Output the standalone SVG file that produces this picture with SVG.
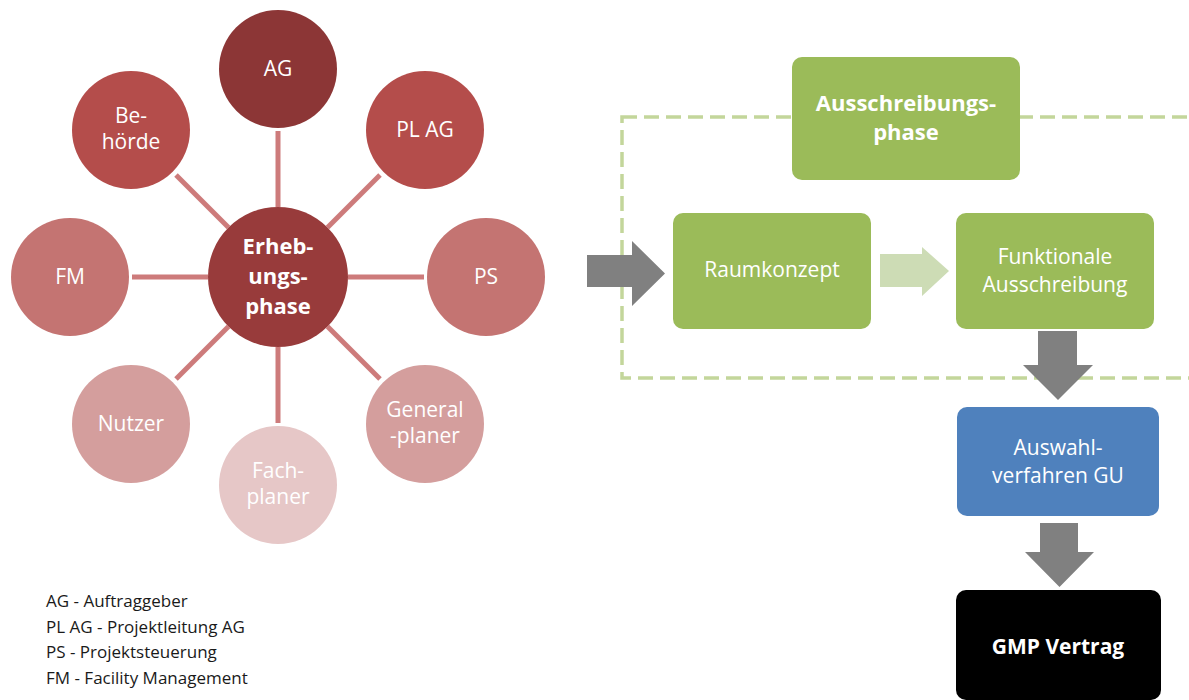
<svg xmlns="http://www.w3.org/2000/svg" width="1189" height="700" viewBox="0 0 1189 700">
<style>
text{font-family:"Open Sans","Noto Sans",sans-serif;fill:#fff;text-anchor:middle}
.s{font-size:21px}
.b{font-size:22px;font-weight:bold}
.spoke{stroke:#cd7b7b;stroke-width:5}
.box{fill:#9bbb59}
.arr{fill:#808080}
.leg{fill:#1a1a1a;font-size:17px;text-anchor:start}
</style>
<rect width="1189" height="700" fill="#fff"/>
<g id="connectors">
<line class="spoke" x1="278" y1="207" x2="278" y2="131"/>
<line class="spoke" x1="327.5" y1="227.5" x2="380" y2="175"/>
<line class="spoke" x1="348" y1="277" x2="424" y2="277"/>
<line class="spoke" x1="327.5" y1="326.5" x2="380" y2="379"/>
<line class="spoke" x1="278" y1="347" x2="278" y2="423"/>
<line class="spoke" x1="228.5" y1="326.5" x2="176" y2="379"/>
<line class="spoke" x1="208" y1="277" x2="132" y2="277"/>
<line class="spoke" x1="228.5" y1="227.5" x2="176" y2="175"/>
<rect x="622" y="117" width="600" height="261" fill="none" stroke="#c3d69b" stroke-width="3.5" stroke-dasharray="15 7"/>
<polygon class="arr" points="587,255 632,255 632,241 665,273.5 632,306 632,287 587,287"/>
<polygon fill="#cddcb5" points="880,254 922,254 922,247 949,271 922,296 922,287 880,287"/>
<polygon class="arr" points="1038,331 1077,331 1077,365 1093,365 1058,400 1023,365 1038,365"/>
<polygon class="arr" points="1040,523 1078,523 1078,552 1094,552 1059.5,587 1025,552 1040,552"/>
</g>
<g id="n-center"><circle cx="278" cy="277" r="70" fill="#983b3b"/><text class="b" x="278" y="254">Erheb-</text><text class="b" x="278" y="284">ungs-</text><text class="b" x="278" y="314">phase</text></g>
<g id="n-ag"><circle cx="278" cy="69" r="59" fill="#8c3636"/><text class="s" x="278" y="76">AG</text></g>
<g id="n-plag"><circle cx="425" cy="130" r="59" fill="#b44d4b"/><text class="s" x="425" y="137">PL AG</text></g>
<g id="n-ps"><circle cx="486" cy="277" r="59" fill="#c47472"/><text class="s" x="486" y="284">PS</text></g>
<g id="n-general"><circle cx="425" cy="424" r="59" fill="#d49e9d"/><text class="s" x="425" y="417">General</text><text class="s" x="425" y="443">-planer</text></g>
<g id="n-fach"><circle cx="278" cy="485" r="59" fill="#e6c7c7"/><text class="s" x="278" y="478">Fach-</text><text class="s" x="278" y="504">planer</text></g>
<g id="n-nutzer"><circle cx="131" cy="424" r="59" fill="#d49e9d"/><text class="s" x="131" y="431">Nutzer</text></g>
<g id="n-fm"><circle cx="70" cy="277" r="59" fill="#c47472"/><text class="s" x="70" y="284">FM</text></g>
<g id="n-behoerde"><circle cx="131" cy="130" r="59" fill="#b44d4b"/><text class="s" x="131" y="123">Be-</text><text class="s" x="131" y="149">hörde</text></g>
<g id="n-ausschreibungsphase"><rect class="box" x="792" y="57" width="228" height="123" rx="10"/><text class="b" x="906" y="111">Ausschreibungs-</text><text class="b" x="906" y="140">phase</text></g>
<g id="n-raumkonzept"><rect class="box" x="673" y="213" width="198" height="116" rx="10"/><text class="s" x="772" y="277">Raumkonzept</text></g>
<g id="n-funktionale"><rect class="box" x="956" y="213" width="198" height="116" rx="10"/><text class="s" x="1055" y="264">Funktionale</text><text class="s" x="1055" y="292">Ausschreibung</text></g>
<g id="n-auswahl"><rect x="957" y="407" width="202" height="109" rx="10" fill="#4f81bd"/><text class="s" x="1058" y="455">Auswahl-</text><text class="s" x="1058" y="483">verfahren GU</text></g>
<g id="n-gmp"><rect x="956" y="590" width="205" height="110" rx="10" fill="#000"/><text x="1058" y="654" style="font-size:21px;font-weight:bold">GMP Vertrag</text></g>
<g id="legend">
<text class="leg" x="46" y="607">AG - Auftraggeber</text>
<text class="leg" x="46" y="633">PL AG - Projektleitung AG</text>
<text class="leg" x="46" y="658">PS - Projektsteuerung</text>
<text class="leg" x="46" y="684">FM - Facility Management</text>
</g>
</svg>
